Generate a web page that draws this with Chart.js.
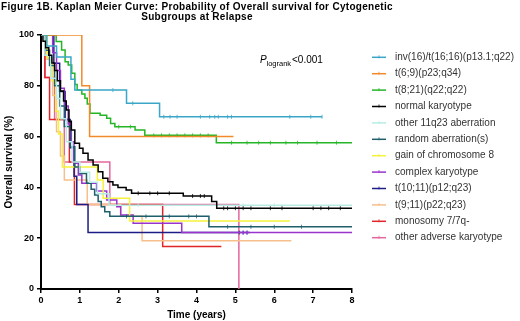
<!DOCTYPE html>
<html>
<head>
<meta charset="utf-8">
<script src="https://cdn.jsdelivr.net/npm/chart.js@4.4.1/dist/chart.umd.min.js"></script>
<style>
  html, body { margin: 0; padding: 0; background: #fff; }
  #wrap { width: 520px; height: 321px; position: relative; }
</style>
</head>
<body>
<div id="wrap"><canvas id="kmChart" width="520" height="321"></canvas></div>
<script>
// groups, in legend order
const groupNames = [
  'inv(16)/t(16;16)(p13.1;q22)', 't(6;9)(p23;q34)', 't(8;21)(q22;q22)', 'normal karyotype',
  'other 11q23 aberration', 'random aberration(s)', 'gain of chromosome 8', 'complex karyotype',
  't(10;11)(p12;q23)', 't(9;11)(p22;q23)', 'monosomy 7/7q-', 'other adverse karyotype'
];
const groupColors = [
  '#3aa6c8', '#f28a2a', '#25b525', '#000000',
  '#b5ece4', '#1f5f6c', '#f4f23c', '#9a34cf',
  '#1d1d86', '#f7bf8c', '#e1262a', '#e3679c'
];

// Kaplan-Meier steps (years, survival %), end of follow-up, censor times
const inv16Times = [0, 0.15, 0.4, 0.77, 0.87, 2.2, 3.05];
const inv16Surv = [100, 95.7, 91.3, 82.6, 78.3, 73.1, 67.8];
const inv16End = 7.23;
const inv16Cens = [1.85, 2.36, 3.16, 3.32, 3.5, 4.1, 4.34, 4.47, 4.56, 4.8, 4.9, 6.4, 6.94, 7.23];

const t69Times = [0, 1.05, 1.25];
const t69Surv = [100, 80, 60];
const t69End = 4.95;
const t69Cens = [];

const t821Times = [0, 0.39, 0.53, 0.62, 0.70, 0.79, 0.87, 0.93, 1.05, 1.13, 1.19, 1.26, 1.52, 1.69, 1.79, 1.90, 2.42, 2.67, 4.51];
const t821Surv = [100, 97.4, 94.1, 89.5, 88.2, 84.9, 80.5, 78.3, 76.8, 75.1, 72.8, 69.2, 68.4, 67.2, 65.2, 63.9, 62.6, 60.5, 57.6];
const t821End = 8;
const t821Cens = [2.0, 2.3, 2.9, 3.1, 3.3, 3.5, 3.7, 3.9, 4.1, 4.3, 4.9, 5.3, 5.6, 5.9, 6.3, 6.6, 7.1, 7.6];

const normalTimes = [0, 0.05, 0.12, 0.2, 0.28, 0.35, 0.42, 0.5, 0.58, 0.65, 0.72, 0.78, 0.87, 0.99, 1.08, 1.21, 1.34, 1.47, 1.59, 1.72, 1.85, 1.98, 2.19, 2.33, 3.66, 4.39, 4.52];
const normalSurv = [100, 97.5, 95, 92, 89, 86, 82, 78, 74, 70.5, 66, 62.6, 57.4, 55.4, 53.4, 50.8, 48.8, 46.2, 43.6, 42.2, 40.9, 40.0, 39.0, 37.7, 36.6, 34.4, 31.8];
const normalEnd = 8;
const normalCens = [2.5, 2.8, 3.0, 3.3, 3.9, 4.1, 4.2, 4.7, 4.8, 5.0, 5.2, 5.4, 5.9, 6.2, 7.0, 7.2, 7.4, 7.7];

const other11q23Times = [0, 0.1, 0.25, 0.4, 0.5, 0.65, 0.8, 1.0, 1.25, 1.45, 1.75];
const other11q23Surv = [100, 92, 83, 75, 67, 58, 50, 46, 42, 37.5, 33.0];
const other11q23End = 8;
const other11q23Cens = [2.5, 5.2, 6.0];

const randomTimes = [0, 0.1, 0.22, 0.35, 0.48, 0.6, 0.75, 0.87, 1.0, 1.17, 1.29, 1.38, 1.47, 1.55, 1.64, 1.77, 4.32];
const randomSurv = [100, 94, 88, 80, 72, 64, 56, 48, 45.5, 41.6, 39.3, 37, 34.4, 32.4, 30.4, 28.6, 24.5];
const randomEnd = 8;
const randomCens = [2.2, 2.7, 3.3, 3.8, 4.0, 4.8, 5.4, 6.0, 6.7];

const gain8Times = [0, 0.15, 0.28, 0.38, 0.45, 0.55, 1.45, 1.6, 2.28];
const gain8Surv = [100, 91, 82, 70, 61, 48, 42.9, 35.7, 26.8];
const gain8End = 6.4;
const gain8Cens = [];

const complexTimes = [0, 0.3, 0.4, 0.5, 0.6, 0.7, 0.78, 0.85, 0.96, 1.05, 1.43, 1.69, 1.95, 2.05, 2.37, 3.62];
const complexSurv = [100, 93, 86, 79, 72, 65, 58, 49.5, 44.9, 41.6, 38.6, 35, 32.4, 29.1, 25.9, 22.2];
const complexEnd = 8;
const complexCens = [5.2, 5.3];

const t1011Times = [0, 0.33, 0.48, 0.62, 0.75, 0.85, 0.92, 1.21];
const t1011Surv = [100, 88.9, 77.8, 66.7, 55.6, 44.4, 33.3, 22.2];
const t1011End = 5.37;
const t1011Cens = [5.1, 5.2, 5.3];

const t911Times = [0, 0.15, 0.3, 0.4, 0.5, 0.6, 1.19, 2.05, 2.6];
const t911Surv = [100, 90.5, 76.2, 61.9, 52.4, 42.9, 33.3, 28.6, 19.0];
const t911End = 6.44;
const t911Cens = [];

const mono7Times = [0, 0.1, 0.22, 0.73, 0.86, 3.13];
const mono7Surv = [100, 83.3, 66.7, 50, 33.3, 16.7];
const mono7End = 4.64;
const mono7Cens = [];

const advTimes = [0, 0.1, 0.35, 0.6, 1.77, 5.09];
const advSurv = [100, 83.3, 66.7, 50, 33.3, 0];
const advEnd = 5.09;
const advCens = [];

const xTicks = [0, 1, 2, 3, 4, 5, 6, 7, 8];
const yTicks = [0, 20, 40, 60, 80, 100];

const FONT = '"Liberation Sans", Arial, sans-serif';

function buildKM(times, surv, endT, cens) {
  const pts = times.map((t, i) => ({ x: t, y: surv[i], c: false }));
  cens.forEach(ct => {
    let s = surv[0];
    times.forEach((t, i) => { if (t <= ct) s = surv[i]; });
    pts.push({ x: ct, y: s, c: true });
  });
  if (endT > times[times.length - 1]) {
    pts.push({ x: endT, y: surv[surv.length - 1], c: false });
  }
  pts.sort((a, b) => a.x - b.x);
  return pts;
}

const series = [
  [inv16Times, inv16Surv, inv16End, inv16Cens],
  [t69Times, t69Surv, t69End, t69Cens],
  [t821Times, t821Surv, t821End, t821Cens],
  [normalTimes, normalSurv, normalEnd, normalCens],
  [other11q23Times, other11q23Surv, other11q23End, other11q23Cens],
  [randomTimes, randomSurv, randomEnd, randomCens],
  [gain8Times, gain8Surv, gain8End, gain8Cens],
  [complexTimes, complexSurv, complexEnd, complexCens],
  [t1011Times, t1011Surv, t1011End, t1011Cens],
  [t911Times, t911Surv, t911End, t911Cens],
  [mono7Times, mono7Surv, mono7End, mono7Cens],
  [advTimes, advSurv, advEnd, advCens]
];

const datasets = series.map((s, i) => ({
  label: groupNames[i],
  data: buildKM(s[0], s[1], s[2], s[3]),
  borderColor: groupColors[i],
  backgroundColor: groupColors[i],
  borderWidth: 1.5,
  stepped: 'before',
  fill: false,
  pointStyle: 'line',
  rotation: 90,
  pointBorderWidth: 0.8,
  pointRadius: ctx => (ctx.raw && ctx.raw.c ? 2 : 0),
  pointHoverRadius: 0
}));

// title, p-value text and legend drawn on the canvas
const extrasPlugin = {
  id: 'extras',
  afterDraw(chart) {
    const ctx = chart.ctx;
    ctx.save();
    ctx.fillStyle = '#000';
    ctx.textBaseline = 'middle';

    ctx.font = 'bold 10px ' + FONT;
    ctx.letterSpacing = '0.3px';
    ctx.textAlign = 'center';
    ctx.fillText('Figure 1B. Kaplan Meier Curve: Probability of Overall survival for Cytogenetic', 197, 7);
    ctx.fillText('Subgroups at Relapse', 197, 17.5);
    ctx.letterSpacing = '0px';

    ctx.textAlign = 'left';
    ctx.font = 'italic 10px ' + FONT;
    ctx.fillText('P', 260, 60);
    ctx.font = '7.5px ' + FONT;
    ctx.fillText('logrank', 266.5, 63.5);
    ctx.font = '10px ' + FONT;
    ctx.fillText('<0.001', 292, 60);

    ctx.font = '10px ' + FONT;
    groupNames.forEach((name, i) => {
      const y = 57.3 + i * 16.4;
      ctx.strokeStyle = groupColors[i];
      ctx.lineWidth = 1.5;
      ctx.beginPath();
      ctx.moveTo(372, y);
      ctx.lineTo(386, y);
      ctx.stroke();
      ctx.lineWidth = 0.8;
      ctx.beginPath();
      ctx.moveTo(379, y - 2);
      ctx.lineTo(379, y + 1);
      ctx.stroke();
      ctx.fillStyle = '#333';
      ctx.fillText(name, 395, y);
    });
    ctx.restore();
  }
};

new Chart(document.getElementById('kmChart').getContext('2d'), {
  type: 'line',
  data: { datasets: datasets },
  options: {
    responsive: false,
    animation: false,
    events: [],
    layout: { padding: { top: 35, right: 168, left: 0, bottom: 0 } },
    scales: {
      x: {
        type: 'linear',
        min: 0,
        max: 8,
        afterFit: scale => { scale.height = 32; },
        afterBuildTicks: scale => { scale.ticks = xTicks.map(v => ({ value: v })); },
        ticks: { color: '#000', font: { family: FONT, size: 9, weight: 'bold' }, padding: 2 },
        grid: { drawOnChartArea: false, drawTicks: true, tickLength: 4, color: '#000', lineWidth: 1.5 },
        border: { color: '#000', width: 2 },
        title: { display: true, text: 'Time (years)', color: '#000', font: { family: FONT, size: 10, weight: 'bold' }, padding: { top: 0, bottom: 0 } }
      },
      y: {
        min: 0,
        max: 100,
        afterFit: scale => { scale.width = 41; },
        afterBuildTicks: scale => { scale.ticks = yTicks.map(v => ({ value: v })); },
        ticks: { color: '#000', font: { family: FONT, size: 9, weight: 'bold' }, padding: 3 },
        grid: { drawOnChartArea: false, drawTicks: true, tickLength: 4, color: '#000', lineWidth: 1.5 },
        border: { color: '#000', width: 2 },
        title: { display: true, text: 'Overall survival (%)', color: '#000', font: { family: FONT, size: 10, weight: 'bold' }, padding: { top: 3, bottom: 0 } }
      }
    },
    plugins: {
      legend: { display: false },
      tooltip: { enabled: false }
    }
  },
  plugins: [extrasPlugin]
});
</script>
</body>
</html>
